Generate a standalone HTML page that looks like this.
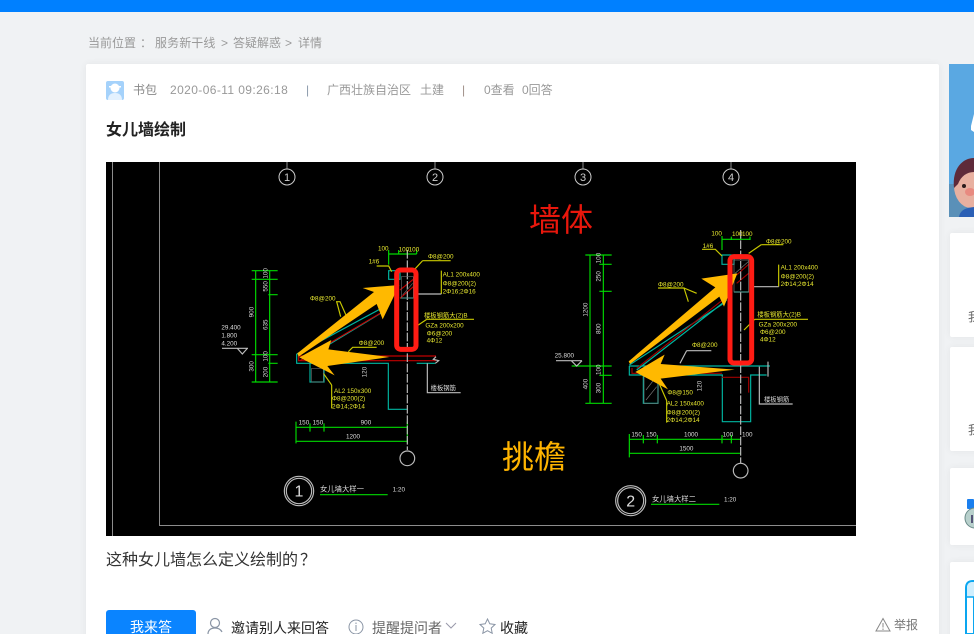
<!DOCTYPE html>
<html lang="zh"><head><meta charset="utf-8"><title>女儿墙绘制</title>
<style>
html,body{margin:0;padding:0;width:974px;height:634px;overflow:hidden}
#w{position:absolute;left:0;top:0;width:974px;height:634px;overflow:hidden;background:#f0f2f4;font-family:"Liberation Sans","Noto Sans CJK SC",sans-serif}
.a{position:absolute;white-space:nowrap}
.card{position:absolute;background:#fff;border-radius:2px;box-shadow:0 0 8px rgba(0,0,0,.06)}
.m{font-size:12px;line-height:17px;color:#999;letter-spacing:.35px}
.bc{top:35px;font-size:12px;line-height:16px;color:#999}
</style></head><body><div id="w">
<div class="a" style="left:0;top:0;width:974px;height:12px;background:#0080ff"></div>
<div class="a bc" style="left:88px">当前位置</div>
<div class="a bc" style="left:140px">：</div>
<div class="a bc" style="left:155px;letter-spacing:.1px">服务新干线</div>
<div class="a bc" style="left:221px">&gt;</div>
<div class="a bc" style="left:233px">答疑解惑</div>
<div class="a bc" style="left:285px">&gt;</div>
<div class="a bc" style="left:298px">详情</div>
<div class="card" style="left:86px;top:64px;width:853px;height:580px"></div>
<svg class="a" style="left:106px;top:81px" width="18" height="19" viewBox="0 0 18 19"><rect width="18" height="19" rx="2" fill="#a5d2fb"/><circle cx="9" cy="7" r="4.500" fill="#fff"/><path d="M2 19c0-5 3-7 7-7s7 2 7 7z" fill="#e3f1fe"/><rect x="3" y="5" width="12" height="1.500" fill="#fff"/></svg>
<div class="a m" style="left:133px;top:82px;color:#888;letter-spacing:0">书包</div>
<div class="a m" style="left:170px;top:82px;letter-spacing:.4px">2020-06-11 09:26:18</div>
<div class="a m" style="left:306px;top:82px;color:#8a99aa">|</div>
<div class="a m" style="left:327px;top:82px;letter-spacing:0">广西壮族自治区</div>
<div class="a m" style="left:420px;top:82px;letter-spacing:0">土建</div>
<div class="a m" style="left:462px;top:82px;color:#a08f88">|</div>
<div class="a m" style="left:484px;top:82px;letter-spacing:0">0查看</div>
<div class="a m" style="left:522px;top:82px;letter-spacing:0">0回答</div>
<div class="a" style="left:106px;top:120px;font-size:16px;line-height:22px;font-weight:700;color:#222">女儿墙绘制</div>

<svg class="a" style="left:106px;top:162px" width="750" height="374" viewBox="106 162 750 374" font-family="Liberation Sans,Noto Sans CJK SC,sans-serif">
<rect x="106" y="162" width="750" height="374" fill="#000"/>
<g fill="none" stroke="#8c8c8c" stroke-width="1">
<path d="M112.500 162V536M159.500 162V525.500H856"/>
<path d="M287 162V169M435 162V169M583 162V169M731 162V169"/>
<circle cx="287" cy="177" r="8" stroke="#ccc"/><circle cx="435" cy="177" r="8" stroke="#ccc"/><circle cx="583" cy="177" r="8" stroke="#ccc"/><circle cx="731" cy="177" r="8" stroke="#ccc"/>
</g>
<g fill="#ccc" font-size="11" text-anchor="middle"><text x="287" y="181">1</text><text x="435" y="181">2</text><text x="583" y="181">3</text><text x="731" y="181">4</text></g>

<!-- Detail 1 -->
<g transform="translate(200 230) scale(.33333)" fill="none" stroke-width="3.500">
<g stroke="#00d800">
<path d="M155 122H233M155 148H233M205 194H233M155 374H233M205 400H233M155 456H233M167 122V456M209 122V456"/>
<path d="M566 72H650M566 60V104M596 60V72M622 60V72M650 60V72"/>
<path d="M288 592H622M288 634H622M288 575V640M330 580V605M372 580V605M622 575V640"/>
<path d="M360 794H563"/>
</g>
<g stroke="#00b4a0"><path d="M566 122H600V148H566ZM600 204H640M290 372V400H565V538H622M650 400H706M290 400H330V456H372V400M290 372L550 232M330 378 550 245"/></g>
<g stroke="#c00000"><path d="M296 378H708M300 392 540 250M296 378V392H708M600 180 640 148M600 205 640 170"/></g>
<g stroke="#c8c800"><path d="M530 108H566L575 125M668 92H752M644 118 668 92M724 122V192M680 268H822M655 285 680 268M408 215H420L440 260M410 215 422 260M395 465 370 430M395 465V535M445 365 458 352H530"/></g>
<g stroke="#bbb"><path d="M622 60V660" stroke-dasharray="26 5"/><path d="M652 192H724M682 400V488H782M708 380 700 388 716 392 706 400"/><circle cx="622" cy="685" r="22"/><circle cx="297" cy="783" r="44"/><circle cx="297" cy="783" r="38"/><path d="M66 355H144M112 355 127 372 142 355"/></g>
<g stroke="#666" stroke-width="2"><path d="M604 140H640V204H604ZM608 195 638 160M335 415H370V456H335Z"/></g>
<g fill="#e8e830" stroke="none" font-size="19">
<text x="534" y="62">100</text><text x="596" y="65">100</text><text x="626" y="65">100</text>
<text x="506" y="100">1#6</text><text x="684" y="86">Φ8@200</text><text x="330" y="212">Φ8@200</text><text x="476" y="345">Φ8@200</text>
<text x="728" y="140">AL1 200x400</text><text x="728" y="166">Φ8@200(2)</text><text x="728" y="190">2Φ16;2Φ16</text>
<text x="672" y="263">楼板钢筋大(2)B</text><text x="676" y="292">GZa 200x200</text><text x="680" y="316">Φ6@200</text><text x="680" y="338">4Φ12</text>
<text x="402" y="489">AL2 150x300</text><text x="396" y="512">Φ8@200(2)</text><text x="396" y="536">2Φ14;2Φ14</text>
</g>
<g fill="#ddd" stroke="none" font-size="19">
<text x="64" y="298">29.400</text><text x="64" y="322">1.800</text><text x="64" y="347">4.200</text>
<text x="296" y="584">150</text><text x="338" y="584">150</text><text x="482" y="584">900</text><text x="438" y="626">1200</text>
<text x="360" y="785" font-size="22">女儿墙大样一</text><text x="578" y="784">1:20</text><text x="692" y="480">楼板钢筋</text>
<text x="202" y="146" transform="rotate(-90 202 146)">100</text><text x="202" y="185" transform="rotate(-90 202 185)">550</text><text x="202" y="300" transform="rotate(-90 202 300)">635</text><text x="160" y="262" transform="rotate(-90 160 262)">900</text><text x="202" y="395" transform="rotate(-90 202 395)">100</text><text x="160" y="425" transform="rotate(-90 160 425)">300</text><text x="202" y="442" transform="rotate(-90 202 442)">200</text><text x="500" y="442" transform="rotate(-90 500 442)">120</text>
<text x="297" y="800" font-size="48" text-anchor="middle">1</text>
</g>
<path d="M292 370 522 186 488 174 598 165 548 268 530 222 296 380Z" fill="#ffb900"/>
<path d="M298 382 394 330 385 358 568 381 382 408 404 436Z" fill="#ffb900"/>
<rect x="590" y="120" width="58" height="238" rx="12" fill="none" stroke="#ff1c14" stroke-width="15"/>
</g>

<!-- Detail 2 -->
<g transform="translate(540 230) scale(.33333)" fill="none" stroke-width="3.500">
<g stroke="#00d800">
<path d="M136 75H215M178 103H215M178 184H215M95 408H215M178 436H215M136 520H215M150 75V520M190 75V520"/>
<path d="M546 28H632M546 18V60M574 20V30M602 20V30M630 20V30"/>
<path d="M268 628H602M268 670H602M268 612V682M310 615V640M352 615V640M546 615V640M574 615V640"/>
<path d="M333 823H538"/>
</g>
<g stroke="#00b4a0"><path d="M546 75H582V103H546ZM268 408V435H547V575H632V435H680M268 408H690M268 435H310V520H354V435M268 405 548 222M290 420 560 210M582 186H626"/></g>
<g stroke="#a00000"><path d="M276 414V430H546M546 442H626V488M290 415 545 212M590 135 626 103M590 160 626 130"/></g>
<g stroke="#c8c800"><path d="M486 58H526L546 78M664 44H730M626 70 664 44M716 104V170M644 268H804M612 300 644 268M354 174H432L445 215M432 174 470 190M380 512V578M355 455 380 512"/></g>
<g stroke="#bbb"><path d="M602 0V700" stroke-dasharray="26 5"/><path d="M642 170H716M658 410V522H758M440 362H514M420 400 440 362M684 395V440"/><circle cx="602" cy="722" r="22"/><circle cx="272" cy="812" r="45"/><circle cx="272" cy="812" r="39"/><path d="M48 392H126M94 392 110 408 126 392"/></g>
<g stroke="#777" stroke-width="2"><path d="M582 90H626V186H582ZM312 440H354V520H312ZM318 510 350 470M318 480 345 445M585 130 625 95"/></g>
<g fill="#e8e830" stroke="none" font-size="19">
<text x="514" y="17">100</text><text x="576" y="18">100</text><text x="606" y="18">100</text>
<text x="488" y="54">1#6</text><text x="678" y="40">Φ8@200</text><text x="354" y="170">Φ8@200</text><text x="456" y="351">Φ8@200</text>
<text x="722" y="118">AL1 200x400</text><text x="722" y="145">Φ8@200(2)</text><text x="722" y="168">2Φ14;2Φ14</text>
<text x="652" y="260">楼板钢筋大(2)B</text><text x="656" y="290">GZa 200x200</text><text x="660" y="312">Φ6@200</text><text x="660" y="334">4Φ12</text>
<text x="380" y="526">AL2 150x400</text><text x="380" y="554">Φ8@200(2)</text><text x="380" y="576">2Φ14;2Φ14</text><text x="382" y="493">Φ8@150</text>
</g>
<g fill="#ddd" stroke="none" font-size="19">
<text x="44" y="383">25.800</text><text x="274" y="620">150</text><text x="318" y="620">150</text><text x="432" y="620">1000</text><text x="548" y="620">100</text><text x="606" y="620">100</text><text x="418" y="662">1500</text>
<text x="336" y="815" font-size="22">女儿墙大样二</text><text x="552" y="814">1:20</text><text x="672" y="514">楼板钢筋</text>
<text x="182" y="100" transform="rotate(-90 182 100)">100</text><text x="182" y="155" transform="rotate(-90 182 155)">250</text><text x="182" y="312" transform="rotate(-90 182 312)">800</text><text x="142" y="260" transform="rotate(-90 142 260)">1200</text><text x="182" y="435" transform="rotate(-90 182 435)">100</text><text x="142" y="478" transform="rotate(-90 142 478)">400</text><text x="182" y="490" transform="rotate(-90 182 490)">300</text><text x="484" y="484" transform="rotate(-90 484 484)">120</text>
<text x="272" y="830" font-size="48" text-anchor="middle">2</text>
</g>
<path d="M266 394 526 172 484 146 592 130 552 230 538 200 270 402Z" fill="#ffb900"/>
<path d="M286 426 374 374 362 402 584 419 362 446 384 478Z" fill="#ffb900"/>
<rect x="570" y="80" width="65" height="319" rx="12" fill="none" stroke="#ff1c14" stroke-width="15"/>
</g>

<text x="529" y="231" font-size="32" fill="#e8170c">墙体</text>
<text x="502" y="468" font-size="32" fill="#ffb400">挑檐</text>
</svg>

<div class="a" style="left:106px;top:549px;font-size:16px;line-height:23px;color:#333">这种女儿墙怎么定义绘制的</div>
<div class="a" style="left:300px;top:549px;font-size:16px;line-height:23px;color:#333">？</div>
<div class="a" style="left:106px;top:610px;width:90px;height:30px;background:#0a84ff;border-radius:3px 3px 0 0;color:#fff;font-size:14px;line-height:34px;text-align:center">我来答</div>
<svg class="a" style="left:207px;top:617px" width="18" height="17" viewBox="0 0 18 17" fill="none" stroke="#8a95a5" stroke-width="1.200"><circle cx="8" cy="6" r="4.500"/><path d="M1 17c0-4 3-6 7-6s6 2 7 4"/></svg>
<div class="a" style="left:231px;top:618px;font-size:14px;line-height:20px;color:#222">邀请别人来回答</div>
<svg class="a" style="left:348px;top:619px" width="17" height="15" viewBox="0 0 17 15" fill="none" stroke="#8a95a5"><circle cx="8" cy="8" r="7"/><path d="M8 6V12M8 3.500V5"/></svg>
<div class="a" style="left:372px;top:618px;font-size:14px;line-height:20px;color:#666">提醒提问者</div>
<svg class="a" style="left:445px;top:622px" width="12" height="8" viewBox="0 0 12 8" fill="none" stroke="#99a"><path d="M1 1l5 5 5-5"/></svg>
<svg class="a" style="left:479px;top:618px" width="17" height="16" viewBox="0 0 17 16" fill="none" stroke="#8a95a5"><path d="M8.500 1l2.300 4.800 5.200.7-3.800 3.600 1 5.200-4.700-2.600-4.700 2.600 1-5.200L1 6.500l5.200-.7z"/></svg>
<div class="a" style="left:500px;top:618px;font-size:14px;line-height:20px;color:#222">收藏</div>
<svg class="a" style="left:875px;top:617px" width="16" height="15" viewBox="0 0 16 15" fill="none" stroke="#888"><path d="M8 1.500 15 14H1ZM8 6V10.500M8 11.500V13"/></svg>
<div class="a" style="left:894px;top:617px;font-size:12px;line-height:17px;color:#777">举报</div>

<!-- Right column -->
<svg class="a" style="left:949px;top:64px" width="25" height="153" viewBox="0 0 25 153">
<rect width="25" height="153" fill="#5aa8e2"/><rect y="120" width="25" height="33" fill="#5a90b8"/>
<path d="M22 62 25 50V68L22 66Z" fill="#fff"/>
<ellipse cx="22" cy="122" rx="17" ry="22" fill="#e8b0a0"/>
<path d="M5 124C3 104 14 94 25 94V108C18 108 12 112 9 120Z" fill="#5e2a3a"/>
<circle cx="15" cy="122" r="2" fill="#2a1c1c"/><ellipse cx="21" cy="128" rx="5" ry="4" fill="#e88a80"/>
<path d="M10 153C11 147 15 144 25 143V153Z" fill="#2a5fb5"/>
</svg>
<div class="card" style="left:950px;top:233px;width:40px;height:104px"></div>
<div class="a" style="left:968px;top:309px;font-size:12px;line-height:17px;color:#666">我</div>
<div class="card" style="left:950px;top:347px;width:40px;height:104px"></div>
<div class="a" style="left:968px;top:422px;font-size:12px;line-height:17px;color:#666">我</div>
<div class="card" style="left:950px;top:468px;width:40px;height:77px"></div>
<svg class="a" style="left:964px;top:498px" width="10" height="32" viewBox="0 0 10 32"><rect x="3" y="1" width="7" height="10" rx="1" fill="#1a7fee"/><circle cx="11" cy="20" r="10" fill="#b8d0cc" stroke="#6a8a88"/><rect x="7" y="17" width="2" height="8" fill="#557"/></svg>
<div class="card" style="left:950px;top:562px;width:40px;height:90px"></div>
<svg class="a" style="left:965px;top:580px" width="9" height="54" viewBox="0 0 9 54"><path d="M1 54V8Q1 1 8 1H9V54Z" fill="#fff" stroke="#0aa6f0" stroke-width="2"/><path d="M2 17V8Q2 2 8 2H9V17Z" fill="#cfeefd"/><path d="M1 17H9" stroke="#0aa6f0" stroke-width="1.500"/></svg>
</div></body></html>
